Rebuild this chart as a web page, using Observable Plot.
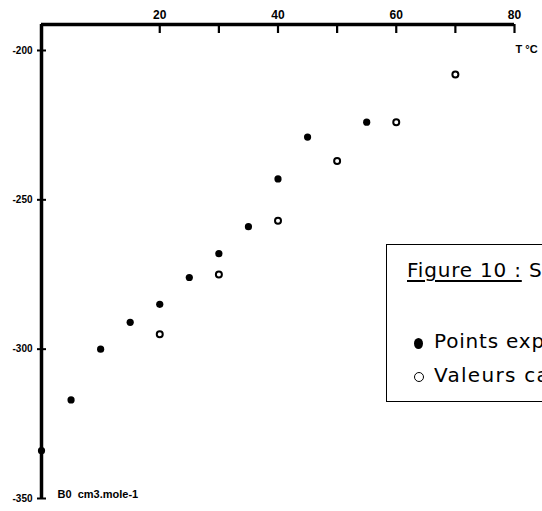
<!DOCTYPE html>
<html>
<head>
<meta charset="utf-8">
<script src="https://cdn.jsdelivr.net/npm/d3@7"></script>
<script src="https://cdn.jsdelivr.net/npm/@observablehq/plot@0.6"></script>
<style>
  html, body { margin: 0; padding: 0; background: #fff; overflow: hidden; }
  #wrap { position: relative; width: 542px; height: 511px; overflow: hidden; }
  #legend {
    position: absolute; left: 386px; top: 244px; width: 320px; height: 158px;
    border: 1.5px solid #000; background: #fff; box-sizing: border-box;
    font-family: "DejaVu Sans", sans-serif; font-size: 20px; color: #000;
    letter-spacing: 0.8px; white-space: nowrap;
  }
  #legend .row { position: absolute; line-height: 20px; }
  #legend .title { left: 20px; top: 15px; }
  #legend .title u { text-underline-offset: 3px; text-decoration-thickness: 1.5px; }
  #legend .r1 { left: 47px; top: 86px; }
  #legend .r2 { left: 47px; top: 120px; letter-spacing: 1.3px; }
  .sym { position: absolute; box-sizing: border-box; border-radius: 50%; }
  .filled { left: 27px; top: 93px; width: 9px; height: 11px; background: #000; }
  .open { left: 27px; top: 127px; width: 10px; height: 10px; border: 1.6px solid #000; }
</style>
</head>
<body>
<div id="wrap">
  <div id="chart"></div>
  <div id="legend">
    <div class="row title"><u>Figure 10 :</u> Second coefficient du viriel</div>
    <span class="sym filled"></span>
    <div class="row r1">Points expérimentaux</div>
    <span class="sym open"></span>
    <div class="row r2">Valeurs calculées</div>
  </div>
</div>
<script>
// Axis ticks and labels
const tempTicks = [20, 30, 40, 50, 60, 70, 80];
const tempLabels = [20, 40, 60, 80];
const bTicks = [-200, -250, -300, -350];
const xDomain = [0, 80];
const yDomain = [-350, -191.3];

// Experimental points (filled)
const expT = [0, 5, 10, 15, 20, 25, 30, 35, 40, 45, 55];
const expB = [-334, -317, -300, -291, -285, -276, -268, -259, -243, -229, -224];

// Calculated values (open)
const calcT = [20, 30, 40, 50, 60, 70];
const calcB = [-295, -275, -257, -237, -224, -208];

const W = 542, H = 511;
const mL = 41, mR = 28, mT = 24, mB = 13;
const frameW = W - mL - mR, frameH = H - mT - mB;

const expData = expT.map((t, i) => ({t, b: expB[i]}));
const calcData = calcT.map((t, i) => ({t, b: calcB[i]}));

const chart = Plot.plot({
  width: W, height: H,
  marginLeft: mL, marginRight: mR, marginTop: mT, marginBottom: mB,
  x: {domain: xDomain},
  y: {domain: yDomain},
  style: {fontFamily: "Liberation Sans, Arial, sans-serif", background: "#fff", color: "#000"},
  marks: [
    Plot.axisX(tempLabels, {anchor: "top", tickSize: 0, tickPadding: 6, label: null, fontSize: 12, fontWeight: "bold"}),
    Plot.tickX(tempTicks, {x: d => d, insetBottom: frameH - 9, strokeWidth: 2.2, stroke: "#000"}),
    Plot.axisY(bTicks, {anchor: "left", tickSize: 4, tickPadding: 5, tickFormat: d => String(d), label: null, fontSize: 10, fontWeight: "bold", strokeWidth: 2}),
    Plot.tickY(bTicks, {y: d => d, insetRight: frameW - 5, strokeWidth: 2, stroke: "#000"}),
    Plot.ruleY([yDomain[1]], {strokeWidth: 3.5, stroke: "#000"}),
    Plot.ruleX([xDomain[0]], {strokeWidth: 3.5, stroke: "#000"}),
    Plot.dot(expData, {x: "t", y: "b", r: 3.6, fill: "#000", stroke: "none"}),
    Plot.dot(calcData, {x: "t", y: "b", r: 3, fill: "#fff", stroke: "#000", strokeWidth: 2}),
    Plot.text(["T °C"], {text: d => d, frameAnchor: "top-right", textAnchor: "start", dx: 1, dy: 21, fontSize: 11, fontWeight: "bold"}),
    Plot.text(["B0  cm3.mole-1"], {text: d => d, frameAnchor: "bottom-left", textAnchor: "start", dx: 16, dy: -1, fontSize: 11, fontWeight: "bold", letterSpacing: 0.6})
  ]
});
document.getElementById("chart").appendChild(chart);
</script>
</body>
</html>
